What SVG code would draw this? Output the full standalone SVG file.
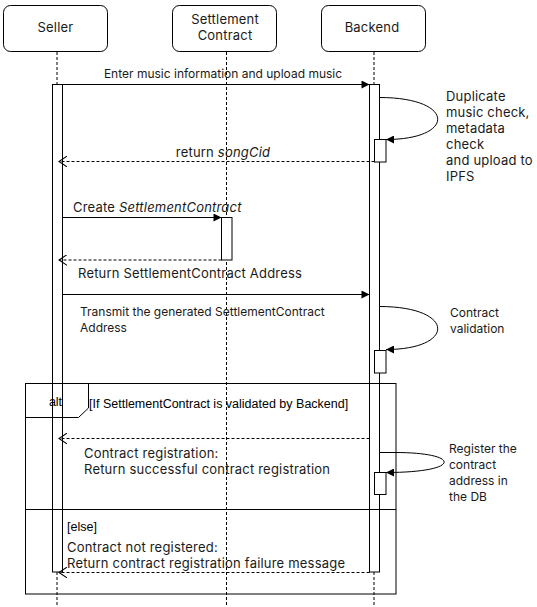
<svg xmlns="http://www.w3.org/2000/svg" width="537" height="607" viewBox="0 0 537 607">
<style>
.bx{fill:#fff;stroke:#000;stroke-width:1}
.ll{stroke:#000;stroke-width:1;stroke-dasharray:3 2;fill:none}
.act{fill:#fff;stroke:#000;stroke-width:1}
.msg{stroke:#000;stroke-width:1;fill:none}
.ret{stroke:#000;stroke-width:1;stroke-dasharray:3 2;fill:none}
.t{font-family:Inter,"Noto Sans",sans-serif;font-size:12px;fill:#1a1a1a}
.h{font-size:13px;letter-spacing:0.2px}
.m{font-size:13px;letter-spacing:0.2px}
.a{font-family:"Liberation Sans",Arial,sans-serif;font-size:12.5px;fill:#000}
.c{text-anchor:middle}
</style>
<defs>
<marker id="fa" viewBox="0 0 10 10" refX="10" refY="5" markerWidth="10" markerHeight="8" markerUnits="userSpaceOnUse" orient="auto">
<path d="M0,0 L10,5 L0,10 Z" fill="#000"/>
</marker>
<marker id="oa" viewBox="0 0 10 12" refX="9" refY="6" markerWidth="9" markerHeight="11" markerUnits="userSpaceOnUse" orient="auto">
<path d="M0,0 L9,6 L0,12" fill="none" stroke="#000" stroke-width="1.2"/>
</marker>
</defs>
<rect width="537" height="607" fill="#fff"/>

<g id="seller">
<rect class="bx" x="3.5" y="5.5" width="104" height="46" rx="7"/>
<text class="t h c" x="55.5" y="32">Seller</text>
<line class="ll" x1="57" y1="52" x2="57" y2="607"/>
</g>
<g id="settlement-contract">
<rect class="bx" x="172.5" y="5.5" width="104" height="46" rx="7"/>
<text class="t h c" x="225" y="24">Settlement</text>
<text class="t h c" x="225" y="40">Contract</text>
<line class="ll" x1="226.5" y1="52" x2="226.5" y2="607"/>
</g>
<g id="backend">
<rect class="bx" x="321.5" y="5.5" width="104" height="46" rx="7"/>
<text class="t h c" x="372" y="32">Backend</text>
<line class="ll" x1="374" y1="52" x2="374" y2="607"/>
</g>

<g id="activations">
<rect class="act" x="52.5" y="84.5" width="10" height="487.5"/>
<rect class="act" x="369.5" y="84.5" width="10" height="487.5"/>
<rect class="act" x="374.5" y="139.5" width="11.5" height="22.5"/>
<rect class="act" x="221.5" y="217.5" width="10.5" height="42.5"/>
<rect class="act" x="374.5" y="350.5" width="11.5" height="22.5"/>
<rect class="act" x="374.5" y="472.5" width="11.5" height="22"/>
</g>

<g id="alt-frame">
<rect x="25.5" y="383.5" width="370.5" height="210.5" fill="none" stroke="#000"/>
<path d="M25.5,383.5 H88.5 V408 L78.5,417.5 H25.5 Z" fill="none" stroke="#000"/>
<text class="a c" x="55.5" y="405.5">alt</text>
<text class="a" x="89" y="407.5">[If SettlementContract is validated by Backend]</text>
<line x1="25.5" y1="509.5" x2="396" y2="509.5" stroke="#000"/>
<text class="a" x="67" y="530.5">[else]</text>
</g>

<g id="connectors">
<line class="msg" x1="62.5" y1="84.5" x2="369.5" y2="84.5" marker-end="url(#fa)"/>
<path class="msg" d="M379.5,97.5 C456,97.5 456,139.5 386,139.5" marker-end="url(#fa)"/>
<line class="ret" x1="374.5" y1="161.5" x2="59" y2="161.5" marker-end="url(#oa)"/>
<line class="msg" x1="62.5" y1="217.5" x2="221.5" y2="217.5" marker-end="url(#fa)"/>
<line class="ret" x1="221.5" y1="260" x2="59" y2="260" marker-end="url(#oa)"/>
<line class="msg" x1="62.5" y1="294.5" x2="369.5" y2="294.5" marker-end="url(#fa)"/>
<path class="msg" d="M379.5,306.5 C456,306.5 456,349.5 386,349.5" marker-end="url(#fa)"/>
<line class="ret" x1="369.5" y1="438.5" x2="59" y2="438.5" marker-end="url(#oa)"/>
<path class="msg" d="M379.5,452.5 L395,452.5 C462,452.5 462,472.5 386,472.5" marker-end="url(#fa)"/>
<line class="ret" x1="369.5" y1="572.5" x2="59" y2="572.5" marker-end="url(#oa)"/>
</g>

<g id="labels">
<text class="t c" x="223" y="78">Enter music information and upload music</text>
<text class="t m" x="446" y="100.5">Duplicate</text>
<text class="t m" x="446" y="116.5">music check,</text>
<text class="t m" x="446" y="132.5">metadata</text>
<text class="t m" x="446" y="148.5">check</text>
<text class="t m" x="446" y="164.5">and upload to</text>
<text class="t m" x="446" y="180.5">IPFS</text>
<text class="t m c" x="223" y="156.5">return <tspan font-style="italic">songCid</tspan></text>
<text class="t m" x="73" y="211.5">Create <tspan font-style="italic">SettlementContract</tspan></text>
<text class="t m" x="78" y="277.5">Return SettlementContract Address</text>
<text class="t" x="80" y="316">Transmit the generated SettlementContract</text>
<text class="t" x="80" y="332">Address</text>
<text class="t" x="450" y="317">Contract</text>
<text class="t" x="450" y="333">validation</text>
<text class="t m" x="84" y="457.5">Contract registration:</text>
<text class="t m" x="84" y="473.5">Return successful contract registration</text>
<text class="t" x="449" y="453">Register the</text>
<text class="t" x="449" y="469">contract</text>
<text class="t" x="449" y="485">address in</text>
<text class="t" x="449" y="501">the DB</text>
<text class="t m" x="67" y="551.5">Contract not registered:</text>
<text class="t m" x="67" y="567.5">Return contract registration failure message</text>
</g>
</svg>
